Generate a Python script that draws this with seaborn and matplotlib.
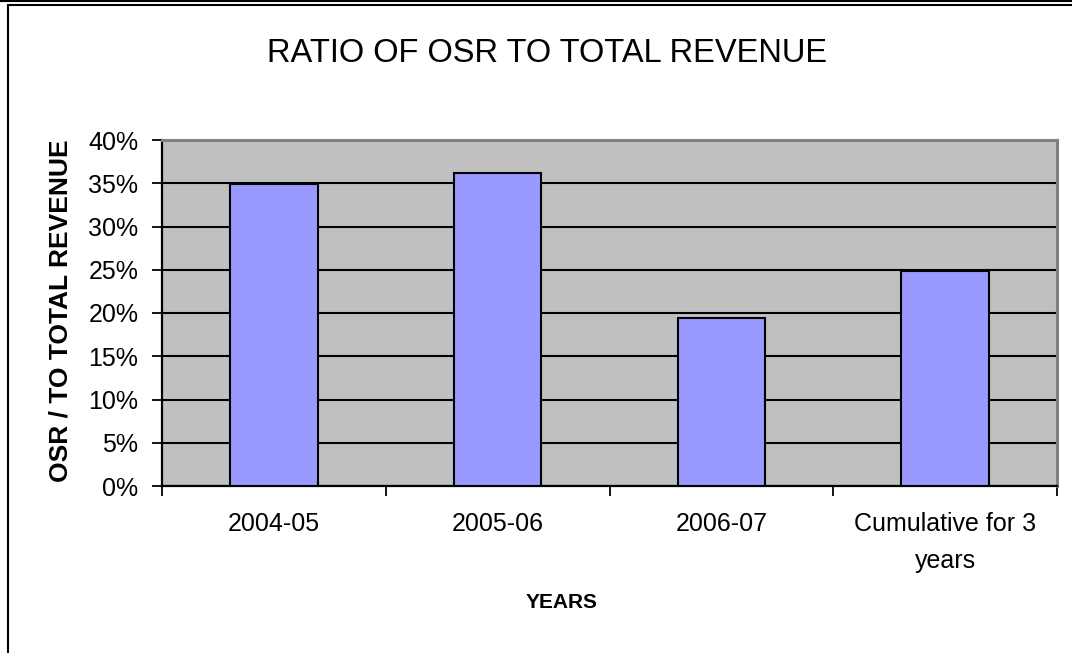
import matplotlib
matplotlib.use("Agg")
import matplotlib.pyplot as plt
import seaborn as sns
import pandas as pd
from matplotlib.lines import Line2D
from matplotlib.ticker import FixedLocator, PercentFormatter

categories = ["2004-05", "2005-06", "2006-07", "Cumulative for 3\nyears"]
ratios = [0.349, 0.362, 0.194, 0.248]
y_ticks = [0.0, 0.05, 0.10, 0.15, 0.20, 0.25, 0.30, 0.35, 0.40]

sns.set_theme(style="white")
plt.rcParams["font.family"] = ["Liberation Sans", "DejaVu Sans"]
plt.rcParams["text.color"] = "black"
plt.rcParams["axes.labelcolor"] = "black"
plt.rcParams["xtick.color"] = "black"
plt.rcParams["ytick.color"] = "black"

df = pd.DataFrame({"Year": categories, "Ratio": ratios})

fig = plt.figure(figsize=(10.72, 6.53), dpi=100)
fig.patch.set_facecolor("white")
ax = fig.add_axes([162 / 1072, 1 - 486 / 653, 895 / 1072, 346 / 653])
ax.set_facecolor("#C0C0C0")

sns.barplot(data=df, x="Year", y="Ratio", color="#9999FF", width=0.39,
            edgecolor="black", linewidth=1.5, saturation=1, ax=ax, zorder=3)

ax.set_ylim(0, 0.40)
ax.set_xlim(-0.5, len(categories) - 0.5)
ax.yaxis.set_major_locator(FixedLocator(y_ticks))
ax.yaxis.set_major_formatter(PercentFormatter(1.0, decimals=0))
ax.grid(axis="y", color="black", linewidth=1.5, zorder=1)
ax.set_axisbelow(True)

# x ticks at category boundaries, labels as minor ticks at centres
n = len(categories)
ax.set_xticks([i - 0.5 for i in range(n + 1)])
ax.set_xticklabels([""] * (n + 1))
ax.set_xticks(list(range(n)), minor=True)
ax.set_xticklabels(categories, minor=True, fontsize=18, linespacing=1.65,
                   color="black")
ax.tick_params(axis="x", which="major", direction="out", length=7, width=1.3,
               color="black", bottom=True)
ax.tick_params(axis="x", which="minor", length=0, pad=19)
ax.tick_params(axis="y", direction="out", length=7, width=1.3, color="black",
               left=True, labelsize=18, pad=10, labelcolor="black")

for side in ["left", "bottom"]:
    ax.spines[side].set_color("black")
    ax.spines[side].set_linewidth(1.6)
for side in ["top", "right"]:
    ax.spines[side].set_color("#808080")
    ax.spines[side].set_linewidth(2.2)

ax.set_xlabel("")
ax.set_ylabel("")

fig.text(547 / 1072, 1 - 54 / 653, "RATIO OF OSR TO TOTAL REVENUE",
         ha="center", va="center", fontsize=23.5, color="black")
fig.text(61 / 1072, 1 - 311 / 653, "OSR / TO TOTAL REVENUE", rotation=90,
         ha="center", va="center", fontsize=19, fontweight="bold", color="black")
fig.text(562 / 1072, 1 - 603 / 653, "YEARS", ha="center", va="center",
         fontsize=15, fontweight="bold", color="black")

# chart frame
fig.add_artist(Line2D([0, 1], [1 - 0.5 / 653, 1 - 0.5 / 653], color="black",
                      linewidth=1.5, transform=fig.transFigure))
fig.add_artist(Line2D([8 / 1072, 1], [1 - 5 / 653, 1 - 5 / 653], color="black",
                      linewidth=1.5, transform=fig.transFigure))
fig.add_artist(Line2D([8 / 1072, 8 / 1072], [0, 1 - 5 / 653], color="black",
                      linewidth=1.5, transform=fig.transFigure))

fig.savefig("out.png", dpi=100, facecolor="white")
